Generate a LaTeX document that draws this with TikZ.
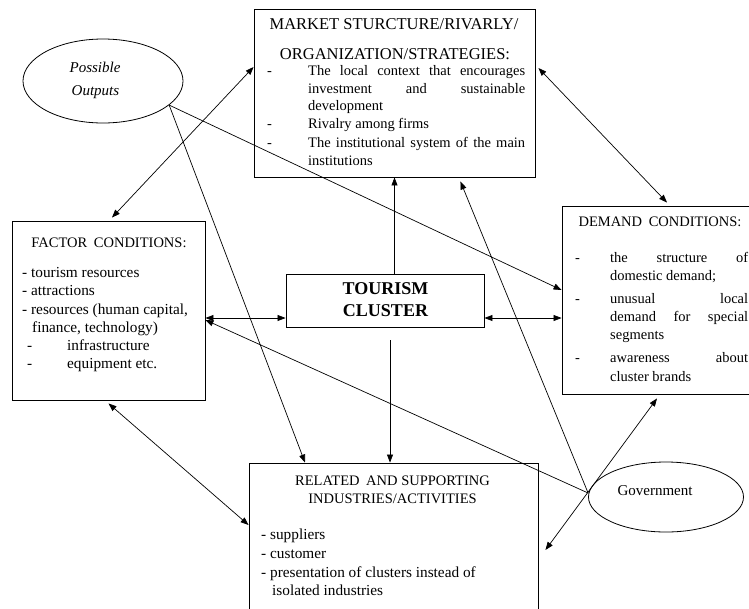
\documentclass[tikz,border=0pt]{standalone}
\usepackage{fontspec}
\setmainfont{Liberation Serif}
\usetikzlibrary{arrows.meta,shapes.geometric}
\tikzset{
  frame/.style={draw, line width=0.9pt, inner sep=0pt},
  oval/.style={draw, ellipse, line width=0.8pt, inner sep=0pt},
  lbl/.style={inner sep=0pt, anchor=base west, font=\fontsize{14.5}{17}\selectfont},
  clbl/.style={inner sep=0pt, anchor=base, font=\fontsize{14.5}{17}\selectfont},
  bigf/.style={font=\fontsize{15.3}{18}\selectfont},
  link/.style={line width=0.7pt}
}
\begin{document}
\begin{tikzpicture}[x=1pt,y=-1pt,>={Triangle[length=8pt,width=6pt]}]
\useasboundingbox (0,0) rectangle (749,608);
% boxes
\node[frame, minimum width=281pt, minimum height=168pt] (market) at (394.5,93) {};
\node[frame, minimum width=193pt, minimum height=179pt] (factor) at (108.5,310.5) {};
\node[frame, minimum width=198pt, minimum height=53pt] (tourism) at (385,300.5) {};
\node[frame, minimum width=190pt, minimum height=188pt] (demand) at (657,300) {};
\node[frame, minimum width=289pt, minimum height=149pt] (related) at (393.5,537.5) {};
\node[oval, minimum width=160pt, minimum height=84pt] (poss) at (103,81) {};
\node[oval, minimum width=155pt, minimum height=70pt] (gov) at (666,497) {};
% market text
\node[clbl, font=\fontsize{16.5}{19}\selectfont] (mt1) at (394,29) {MARKET STURCTURE/RIVARLY/};
\node[clbl, font=\fontsize{16.5}{19}\selectfont] (mt2) at (395,59) {ORGANIZATION/STRATEGIES:};
\node[lbl] (md1) at (267,75) {-};
\node[lbl] (m1a) at (308,75) {\makebox[217pt][s]{The local context that encourages}};
\node[lbl] (m1b) at (308,93) {\makebox[217pt][s]{investment and sustainable}};
\node[lbl] (m1c) at (308,110) {development};
\node[lbl] (md2) at (267,128) {-};
\node[lbl] (m2) at (308,128) {Rivalry among firms};
\node[lbl] (md3) at (267,147) {-};
\node[lbl] (m3a) at (308,147) {\makebox[217pt][s]{The institutional system of the main}};
\node[lbl] (m3b) at (308,165) {institutions};
% factor text
\node[clbl] (ft) at (109,247) {FACTOR\hspace{3pt} CONDITIONS:};
\node[lbl, bigf] (f1) at (22,277) {- tourism resources};
\node[lbl, bigf] (f2) at (22,295) {- attractions};
\node[lbl, bigf] (f3) at (22,314) {- resources (human capital,};
\node[lbl, bigf] (f3b) at (32,332) {finance, technology)};
\node[lbl, bigf] (fd4) at (27,350) {-};
\node[lbl, bigf] (f4) at (67,350) {infrastructure};
\node[lbl, bigf] (fd5) at (27,368) {-};
\node[lbl, bigf] (f5) at (67,368) {equipment etc.};
% demand text
\node[clbl] (dt) at (660,226) {DEMAND\hspace{3pt} CONDITIONS:};
\node[lbl] (dd1) at (575,262) {-};
\node[lbl] (d1a) at (610,262) {\makebox[138pt][s]{the structure of}};
\node[lbl] (d1b) at (610,280) {domestic demand;};
\node[lbl] (dd2) at (575,303) {-};
\node[lbl] (d2a) at (610,303) {\makebox[138pt][s]{unusual local}};
\node[lbl] (d2b) at (610,321) {\makebox[138pt][s]{demand for special}};
\node[lbl] (d2c) at (610,339) {segments};
\node[lbl] (dd3) at (575,362) {-};
\node[lbl] (d3a) at (610,362) {\makebox[138pt][s]{awareness about}};
\node[lbl] (d3b) at (610,381) {cluster brands};
% related text
\node[clbl] (rt1) at (392.5,485) {RELATED\hspace{3pt} AND SUPPORTING};
\node[clbl] (rt2) at (392.5,503) {INDUSTRIES/ACTIVITIES};
\node[lbl, bigf] (r1) at (261,539) {- suppliers};
\node[lbl, bigf] (r2) at (261,558) {- customer};
\node[lbl, bigf] (r3) at (261,577) {- presentation of clusters instead of};
\node[lbl, bigf] (r3b) at (272,595) {isolated industries};
% tourism cluster
\node[clbl, font=\bfseries\fontsize{18}{22}\selectfont] (tc1) at (385.5,294) {TOURISM};
\node[clbl, font=\bfseries\fontsize{18}{22}\selectfont] (tc2) at (385.5,316) {CLUSTER};
% ellipse texts
\node[clbl, font=\itshape\fontsize{15}{18}\selectfont] (po1) at (95,72) {Possible};
\node[clbl, font=\itshape\fontsize{15}{18}\selectfont] (po2) at (95.5,95) {Outputs};
\node[clbl, font=\fontsize{15}{18}\selectfont] (gt) at (655,495) {Government};
% connectors
\draw[link,<->] ([yshift=26pt]market.west) -- ([xshift=3.5pt,yshift=3pt]factor.north);
\draw[link,<->] ([xshift=3pt,yshift=25pt]market.east) -- ([xshift=10pt,yshift=3pt]demand.north);
\draw[link,->] (tourism.north -| market.south) -- (market.south);
\draw[link,->] ([xshift=5pt,yshift=-13pt]tourism.south) -- ([xshift=-3.5pt]related.north);
\draw[link,<->] ([yshift=-7.5pt]factor.east) -- ([yshift=-17.5pt]tourism.west);
\draw[link,<->] ([yshift=-17.5pt]tourism.east) -- ([yshift=-18pt]demand.west);
\draw[link,->] (poss.-20) -- ([yshift=10pt]demand.west);
\draw[link,->] (poss.-20) -- ([xshift=-88.5pt]related.north);
\draw[link,->] ([yshift=4pt]gov.west) -- ([xshift=-75pt,yshift=-4pt]market.south east);
\draw[link,->] ([yshift=4pt]gov.west) -- ([yshift=-9.5pt]factor.east);
\draw[link,<->] ([xshift=7pt,yshift=-12.5pt]related.east) -- ([yshift=-4pt]demand.south);
\draw[link,<->] ([yshift=-3pt]factor.south) -- ([yshift=12.5pt]related.west);
\end{tikzpicture}
\end{document}
